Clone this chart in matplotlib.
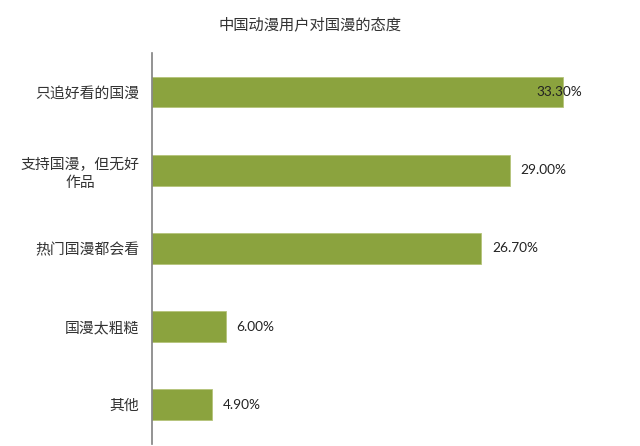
import matplotlib
matplotlib.use("Agg")
import matplotlib.pyplot as plt

plt.rcParams['font.family'] = ['Noto Sans CJK SC', 'DejaVu Sans']

# data, top to bottom as in the picture
categories = ['只追好看的国漫', '支持国漫，但无好\n作品', '热门国漫都会看', '国漫太粗糙', '其他']
values = [33.3, 29.0, 26.7, 6.0, 4.9]
value_labels = ['33.30%', '29.00%', '26.70%', '6.00%', '4.90%']
title = '中国动漫用户对国漫的态度'

bar_color = '#8ba33e'

fig = plt.figure(figsize=(6.4, 4.46), dpi=100)
ax = fig.add_axes([0.2375, 0.005, 0.7625, 0.876])

pos = list(range(len(categories)))
ax.barh(pos, values, height=0.39, color=bar_color, edgecolor='#b5c47a', linewidth=0.6)
ax.set_ylim(4.5, -0.5)
ax.set_xlim(0, 39.55)

ax.set_yticks(pos)
ax.set_yticklabels(categories, fontsize=10.7, color='#333333')
for lab in ax.get_yticklabels():
    lab.set_multialignment('center')
    lab.set_linespacing(1.35)
ax.tick_params(axis='y', length=0, pad=9)
ax.set_xticks([])

for s in ['top', 'right', 'bottom']:
    ax.spines[s].set_visible(False)
ax.spines['left'].set_color('#808080')
ax.spines['left'].set_linewidth(1.2)

lbl_font = ['Lato', 'DejaVu Sans']
for i, (v, t) in enumerate(zip(values, value_labels)):
    if v == max(values):
        # too long to sit outside, Excel pushes it back over the bar end
        ax.annotate(t, (v, i), xytext=(14, 0), textcoords='offset points',
                    ha='right', va='center', fontsize=9.8, family=lbl_font,
                    color='#222222')
    else:
        ax.annotate(t, (v, i), xytext=(7.5, 0), textcoords='offset points',
                    ha='left', va='center', fontsize=9.8, family=lbl_font,
                    color='#222222')

fig.text(0.484, 0.944, title, ha='center', va='center', fontsize=11, color='#333333')

fig.savefig('out.png', dpi=100)
